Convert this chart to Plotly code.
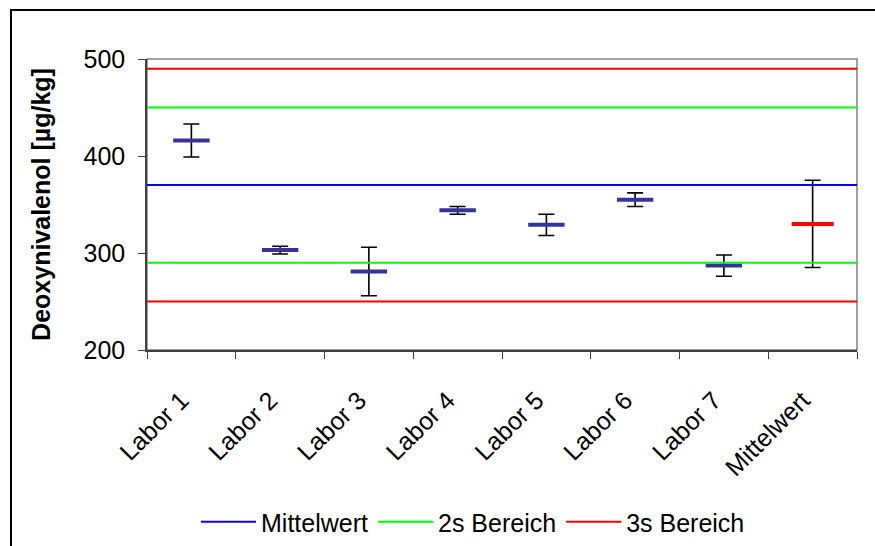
import plotly.graph_objects as go

# Laboratory results for deoxynivalenol (mean and standard deviation per lab)
labs = ["Labor 1", "Labor 2", "Labor 3", "Labor 4", "Labor 5", "Labor 6", "Labor 7", "Mittelwert"]
values = [416, 303, 281, 344, 329, 355, 287, 330]
errors = [17, 4, 25, 4, 11, 7, 11, 45]

# Reference levels
mean_level = [370]
two_s_range = [290, 450]
three_s_range = [250, 490]

y_ticks = [200, 300, 400, 500]

FONT = "Liberation Sans, Arial, sans-serif"
FS = 25
W, H = 875, 546
L, R, T, B = 147, 18, 59, 196
pw, ph = W - L - R, H - T - B

marker_colors = ["#333399"] * (len(labs) - 1) + ["#FF0000"]
marker_sizes = [26] * (len(labs) - 1) + [30]

fig = go.Figure()


def level_trace(levels, color, name):
    xs, ys = [], []
    for v in levels:
        xs += [-0.5, len(labs) - 0.5, None]
        ys += [v, v, None]
    return go.Scatter(x=xs, y=ys, mode="lines", xaxis="x2", name=name,
                      line=dict(color=color, width=2), hoverinfo="skip")


fig.add_trace(level_trace(mean_level, "#0000FF", "Mittelwert"))
fig.add_trace(level_trace(two_s_range, "#00FF00", "2s Bereich"))
fig.add_trace(level_trace(three_s_range, "#FF0000", "3s Bereich"))

fig.add_trace(go.Scatter(
    x=labs, y=values, mode="markers", showlegend=False,
    marker=dict(symbol="line-ew", size=marker_sizes, color=marker_colors,
                opacity=1, line=dict(color=marker_colors, width=4)),
    error_y=dict(type="data", array=errors, visible=True,
                 color="black", thickness=1.6, width=8),
))

# outer chart frame and plot-area frame
fig.add_shape(type="rect", xref="paper", yref="paper",
              x0=(11 - L) / pw, x1=(W + 10 - L) / pw,
              y0=(H - B - (H + 10)) / ph, y1=(H - B - 10) / ph,
              line=dict(color="black", width=2), layer="below")
fig.add_shape(type="rect", xref="paper", yref="paper",
              x0=0, x1=1, y0=0, y1=1,
              line=dict(color="#808080", width=1.5), layer="below")

fig.update_layout(
    template="none",
    width=W, height=H,
    margin=dict(l=L, r=R, t=T, b=B, autoexpand=False),
    paper_bgcolor="white", plot_bgcolor="white",
    font=dict(family=FONT, size=FS, color="black"),
    showlegend=True,
    legend=dict(orientation="h", x=(473 - L) / pw, xanchor="center",
                y=(H - B - 522) / ph, yanchor="middle",
                font=dict(size=FS), itemwidth=55, bgcolor="rgba(0,0,0,0)"),
    xaxis=dict(type="category", categoryorder="array", categoryarray=labs,
               range=[-0.5, len(labs) - 0.5],
               tickson="boundaries", ticks="outside", ticklen=7,
               tickcolor="#404040", tickangle=-45,
               ticklabelstandoff=24, ticklabelshift=-10,
               showline=True, linecolor="#404040", linewidth=1.5,
               showgrid=False, zeroline=False, fixedrange=True),
    xaxis2=dict(overlaying="x", range=[-0.5, len(labs) - 0.5],
                visible=False, fixedrange=True),
    yaxis=dict(range=[200, 500], tickvals=y_ticks,
               ticks="outside", ticklen=7, tickcolor="#404040",
               showline=True, linecolor="#404040", linewidth=1.5,
               showgrid=False, zeroline=False, fixedrange=True,
               ticklabelstandoff=8,
               title=dict(text="<b>Deoxynivalenol [µg/kg]</b>",
                          font=dict(size=FS), standoff=26)),
)

fig.write_html("out.html")
